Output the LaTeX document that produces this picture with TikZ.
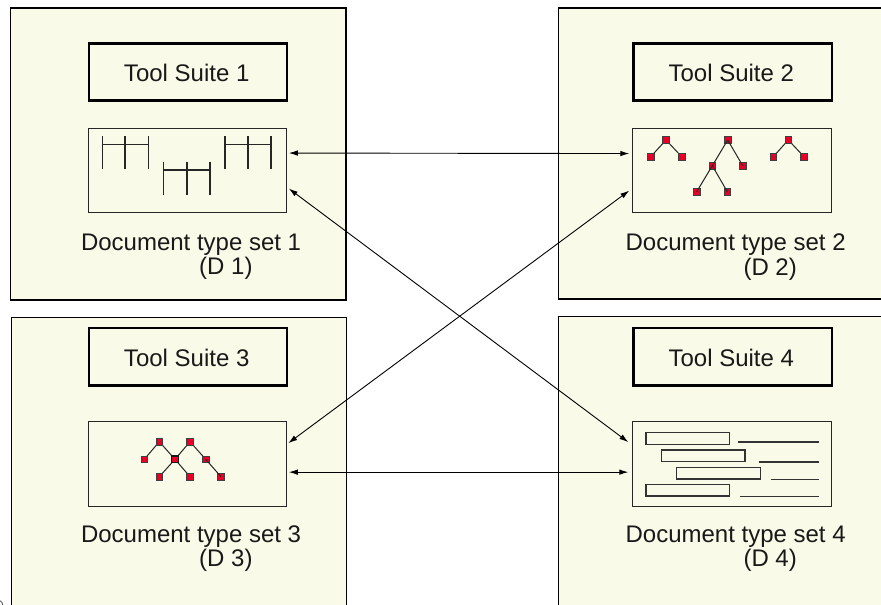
\documentclass[tikz,border=0pt]{standalone}
\usepackage{fontspec}
\setmainfont{Liberation Sans}
\usetikzlibrary{arrows.meta}
\definecolor{panelfill}{RGB}{250,250,232}
\definecolor{nodered}{RGB}{230,0,40}
\begin{document}
\begin{tikzpicture}[x=1pt,y=-1pt,
  panel/.style={draw=black, line width=1.4pt, fill=panelfill, inner sep=0pt, anchor=north west},
  suitebox/.style={draw=black, line width=2.6pt, fill=panelfill, minimum width=198.2pt, minimum height=57.3pt, inner sep=0pt, anchor=north west},
  docbox/.style={draw=black!85, line width=1.1pt, fill=panelfill, minimum width=198.2pt, minimum height=84.6pt, inner sep=0pt, anchor=north west},
  lbl/.style={font=\fontsize{24}{28}\selectfont, text=black!90, inner sep=0pt, anchor=base west},
  suitelbl/.style={font=\fontsize{24}{28}\selectfont, text=black!90, inner sep=0pt, anchor=base},
  conn/.style={line width=0.9pt, {Latex[length=9pt,width=5.5pt]}-{Latex[length=9pt,width=5.5pt]}},
  sq/.style={draw=black!75, line width=0.8pt, fill=nodered, minimum size=6.5pt, inner sep=0pt},
  edge/.style={line width=1pt, draw=black!85},
  comb/.style={line width=1.6pt, draw=black!85},
  bar/.style={draw=black!80, line width=1.2pt, fill=panelfill},
  rule/.style={draw=black!80, line width=1.1pt}
]
\useasboundingbox (0,0) rectangle (881,605);

% the four panels
\node[panel, minimum width=335.3pt, minimum height=292pt] (p1) at (10,7.3) {};
\node[panel, minimum width=340pt, minimum height=291pt] (p2) at (557.8,7.3) {};
\node[panel, minimum width=335pt, minimum height=300pt] (p3) at (10.5,316.7) {};
\node[panel, minimum width=340pt, minimum height=300pt] (p4) at (557.8,315.5) {};

% tool suite boxes
\node[suitebox] (s1) at (87.5,42) {};
\node[suitebox] (s2) at (632.3,42) {};
\node[suitebox] (s3) at (87.5,326.7) {};
\node[suitebox] (s4) at (632.3,326.7) {};
\node[suitelbl] (s1t) at (186.7,81.7) {Tool Suite 1};
\node[suitelbl] (s2t) at (731.3,81.7) {Tool Suite 2};
\node[suitelbl] (s3t) at (186.7,366.4) {Tool Suite 3};
\node[suitelbl] (s4t) at (731.3,366.4) {Tool Suite 4};

% document type boxes
\node[docbox] (d1) at (87.5,127.7) {};
\node[docbox] (d2) at (632.3,127.7) {};
\node[docbox] (d3) at (87.5,421) {};
\node[docbox] (d4) at (632.3,421) {};

% captions
\node[lbl] (l1a) at (80.8,250.5) {Document type set 1};
\node[lbl] (l1b) at (199,274) {(D 1)};
\node[lbl] (l2a) at (625.4,250.7) {Document type set 2};
\node[lbl] (l2b) at (743.3,275) {(D 2)};
\node[lbl] (l3a) at (80.8,542.3) {Document type set 3};
\node[lbl] (l3b) at (199,566.7) {(D 3)};
\node[lbl] (l4a) at (625.4,542.3) {Document type set 4};
\node[lbl] (l4b) at (743.3,566.7) {(D 4)};

% D 1: flat record combs
\foreach \xa/\xb/\xc/\yh/\yt/\yb in {102.3/125/148.3/144.3/136/169.3,
                                     163.3/186.7/210/170/161.7/195,
                                     225/247.7/271/144.3/136/169.3}{
  \draw[comb] (\xa,\yh) -- (\xc,\yh);
  \draw[comb] (\xa,\yt) -- (\xa,\yb);
  \draw[comb] (\xb,\yt) -- (\xb,\yb);
  \draw[comb] (\xc,\yt) -- (\xc,\yb);
}

% D 2: small trees
\coordinate (ta-r) at (666,140);
\coordinate (ta-a) at (650.7,156.7);
\coordinate (ta-b) at (681.7,156.7);
\draw[edge] (ta-a) -- (ta-r) -- (ta-b);
\node[sq] (na-r) at (ta-r) {};
\node[sq] (na-a) at (ta-a) {};
\node[sq] (na-b) at (ta-b) {};

\node[sq] (nb-r) at (727.7,140) {};
\node[sq] (nb-c1) at (712.3,165.7) {};
\node[sq] (nb-c2) at (742.7,165.7) {};
\node[sq] (nb-g1) at (696.7,191.7) {};
\node[sq] (nb-g2) at (727.3,191.7) {};
\draw[edge] (nb-r.center) -- (nb-c1.center);
\draw[edge] (nb-r.center) -- (nb-c2.center);
\draw[edge] (nb-c1.center) -- (nb-g1.center);
\draw[edge] (nb-c1.center) -- (nb-g2.center);

\coordinate (tc-r) at (788.3,140);
\coordinate (tc-a) at (773.3,156.7);
\coordinate (tc-b) at (804,156.7);
\draw[edge] (tc-a) -- (tc-r) -- (tc-b);
\node[sq] (nc-r) at (tc-r) {};
\node[sq] (nc-a) at (tc-a) {};
\node[sq] (nc-b) at (tc-b) {};

% D 3: connected graph
\coordinate (q1) at (159.3,441.7);
\coordinate (q2) at (144.3,459.3);
\coordinate (q3) at (175,459.3);
\coordinate (q4) at (190,441.7);
\coordinate (q5) at (159.3,476.7);
\coordinate (q6) at (190,476.7);
\coordinate (q7) at (205.7,459.3);
\coordinate (q8) at (221,476.7);
\draw[edge] (q2) -- (q1) -- (q3) -- (q4) -- (q7);
\draw[edge] (q5) -- (q3) -- (q6);
\foreach \q in {1,2,4,5,6,7,8}{\node[sq] (nq\q) at (q\q) {};}
\node[sq, line width=1.2pt, draw=black!90] (nq3) at (q3) {};
\draw[edge] (nq7.center) -- (nq8.center);

% D 4: text blocks and lines
\draw[bar] (646,432.3) rectangle (729.3,444.3);
\draw[bar] (661.3,450) rectangle (745,461.7);
\draw[bar] (676.7,467.3) rectangle (760.3,479);
\draw[bar] (646,484.7) rectangle (729.3,496);
\draw[rule] (738.3,442) -- (819,442);
\draw[rule] (759,462) -- (819,462);
\draw[rule] (770.7,479.3) -- (819,479.3);
\draw[rule] (740,496.7) -- (819,496.7);

% exchanges between document type sets
\draw[conn] ([xshift=2pt,yshift=17.5pt]d1.east) -- ([xshift=-3pt,yshift=17pt]d2.west);
\draw[conn] ([xshift=2pt,yshift=-18pt]d1.east) -- ([xshift=-4pt,yshift=21.7pt]d4.west);
\draw[conn] ([xshift=-3pt,yshift=-20pt]d2.west) -- ([xshift=1.5pt,yshift=20.7pt]d3.east);
\draw[conn] ([xshift=2pt,yshift=-8.3pt]d3.east) -- ([xshift=-4pt,yshift=-8.3pt]d4.west);

% small mark at the lower left corner
\draw[line width=0.8pt, black!70] (0,600.7) .. controls (1.5,601.5) and (2.6,603) .. (2.8,605);
\end{tikzpicture}
\end{document}
